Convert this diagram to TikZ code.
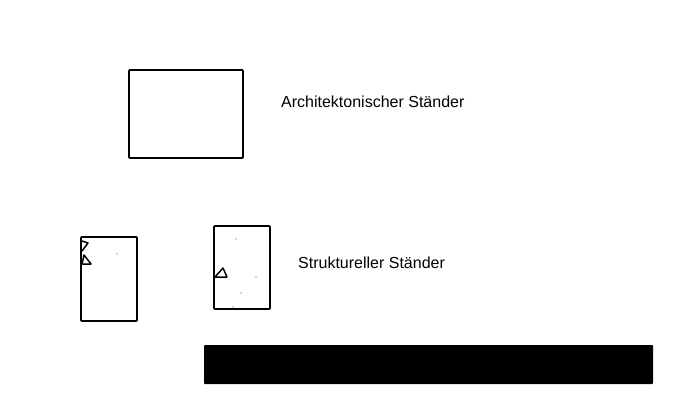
\documentclass[tikz,border=0pt]{standalone}
\usepackage{fontspec}
\setmainfont{Liberation Sans}
\begin{document}
\begin{tikzpicture}[x=1pt,y=-1pt,
  frame/.style={draw=black,line width=1.6pt,rounded corners=0.8pt},
  mark line/.style={draw=black,line width=1.5pt,line join=round},
  label/.style={anchor=west,inner sep=0pt,font=\fontsize{16}{19}\selectfont},
  speck/.style={fill=black!70}]
\useasboundingbox (0,0) rectangle (680,412);
% Architectural stand
\draw[frame] (129,70) rectangle (243,158);
\node[label] (arch) at (281,102) {Architektonischer Ständer};
% Left small stand
\draw[frame] (81,237) rectangle (137,321);
\draw[mark line] (82,241) -- (88,243) -- (82,251);
\draw[mark line] (84,255) -- (82,264) -- (91,264) -- cycle;
\fill[speck] (117,254) circle (0.6);
% Structural stand
\draw[frame] (214,226) rectangle (270,309);
\draw[mark line] (223,268) -- (215,277) -- (227,277) -- cycle;
\fill[speck] (236,239) circle (0.6);
\fill[speck] (256,277) circle (0.6);
\fill[speck] (241,293) circle (0.6);
\fill[speck] (233,307) circle (0.6);
\node[label] (struct) at (298,263) {Struktureller Ständer};
% Black bar
\fill[black,rounded corners=1pt] (204,345) rectangle (653,384);
\end{tikzpicture}
\end{document}
